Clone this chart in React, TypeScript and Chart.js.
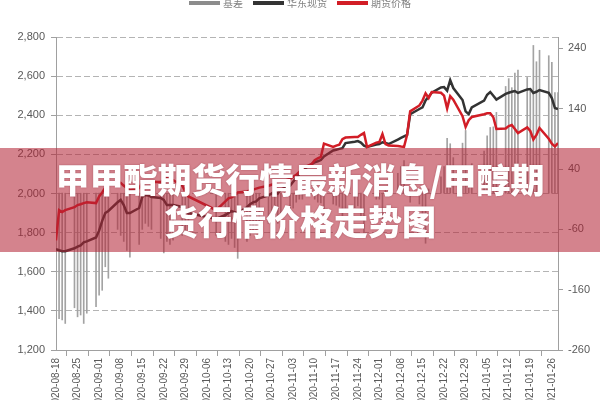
import React, { useEffect, useRef } from "react";
import { Chart, registerables } from "chart.js";

Chart.register(...registerables);

// ---- Data ----
const START_DATE = "2020-08-18";
const END_DATE = "2021-01-28";

// trading days per month
const aug2020 = [18, 19, 20, 21, 24, 25, 26, 27, 28, 31];
const sep2020 = [1, 2, 3, 4, 7, 8, 9, 10, 11, 14, 15, 16, 17, 18, 21, 22, 23, 24, 25, 28, 29, 30];
const oct2020 = [9, 12, 13, 14, 15, 16, 19, 20, 21, 22, 23, 26, 27, 28, 29, 30];
const nov2020 = [2, 3, 4, 5, 6, 9, 10, 11, 12, 13, 16, 17, 18, 19, 20, 23, 24, 25, 26, 27, 30];
const dec2020 = [1, 2, 3, 4, 7, 8, 9, 10, 11, 14, 15, 16, 17, 18, 21, 22, 23, 24, 25, 28, 29, 30, 31];
const jan2021 = [4, 5, 6, 7, 8, 11, 12, 13, 14, 15, 18, 19, 20, 21, 22, 25, 26, 27, 28];

// 华东现货 (spot)
const spotPrice = [
  1716, 1710, 1705, 1705, 1720, 1728, 1735, 1750, 1755, 1775,
  1810, 1860, 1900, 1911, 1955, 1967, 1941, 1900, 1900, 1926, 1982, 1992, 1990, 1982, 1977, 1967, 1941, 1941, 1941, 1931, 1910, 1900,
  1870, 1890, 1900, 1910, 1905, 1900, 1930, 1945, 1955, 1960, 1975, 1990, 2000, 2010, 2000, 2020,
  2040, 2060, 2080, 2100, 2120, 2150, 2160, 2165, 2171, 2190, 2220, 2224, 2228, 2232, 2258, 2265, 2268, 2260, 2245, 2238, 2250,
  2253, 2262, 2258, 2253, 2276, 2284, 2292, 2300, 2405, 2432, 2440, 2476, 2495, 2515, 2542, 2544, 2526, 2580, 2539, 2478, 2420, 2406, 2440,
  2475, 2505, 2519, 2500, 2480, 2509, 2515, 2520, 2524, 2514, 2532, 2534, 2514, 2520, 2529, 2515, 2488, 2437, 2432,
];

// 期货价格 (futures)
const futuresPrice = [
  1760, 1915, 1905, 1915, 1930, 1941, 1945, 1951, 1955, 1951,
  1985, 2005, 2030, 2054, 2058, 2054, 2040, 2030, 2018, 2028, 2054, 2058, 2059, 2059, 2059, 2069, 2079, 2075, 2069, 2040, 2010, 1985,
  1915, 1960, 1975, 1980, 1990, 2005, 2010, 2015, 2020, 2025, 2030, 2040, 2045, 2050, 2055, 2060,
  2075, 2085, 2095, 2110, 2130, 2150, 2170, 2180, 2187, 2255, 2238, 2245, 2250, 2278, 2286, 2289, 2289, 2300, 2309, 2238, 2260,
  2263, 2304, 2253, 2245, 2243, 2240, 2238, 2300, 2420, 2450, 2475, 2512, 2488, 2519, 2515, 2500, 2435, 2498, 2480, 2395, 2340, 2375, 2391,
  2405, 2410, 2410, 2390, 2330, 2332, 2345, 2350, 2330, 2309, 2338, 2320, 2276, 2300, 2335, 2280, 2255, 2240, 2258,
];

// 基差 (basis)
const basis = [
  -200, -208, -210, -216, -190, -205, -202, -216, -199, -188,
  -169, -161, -122, -141, -60, -70, -80, -95, -106, -85, -60, -50, -55, -60, -75, -99, -80, -85, -78, -70, -65, -60,
  -70, -80, -85, -75, -90, -108, -80, -70, -65, -60, -55, -50, -45, -40, -50, -35,
  -35, -25, -15, -10, -10, 0, -10, -15, -16, -50, -18, -20, -22, -38, -31, -24, -21, -40, -64, 0, -10,
  -10, -42, 5, 8, 33, 44, 54, 0, -15, -18, -35, -83, 7, -4, 27, 44, 91, 82, 59, 83, 104, 31, 49,
  70, 95, 109, 110, 134, 177, 190, 175, 199, 204, 192, 170, 245, 218, 237, 228, 217, 167, 167,
];

const xTickLabels = [
  "2020-08-18", "2020-08-25", "2020-09-01", "2020-09-08", "2020-09-15", "2020-09-22",
  "2020-09-29", "2020-10-06", "2020-10-13", "2020-10-20", "2020-10-27", "2020-11-03",
  "2020-11-10", "2020-11-17", "2020-11-24", "2020-12-01", "2020-12-08", "2020-12-15",
  "2020-12-22", "2020-12-29", "2021-01-05", "2021-01-12", "2021-01-19", "2021-01-26",
];
const leftTicks = [1200, 1400, 1600, 1800, 2000, 2200, 2400, 2600, 2800];
const rightTicks = [-260, -160, -60, 40, 140, 240];
const legendLabels = ["基差", "华东现货", "期货价格"];
const titleLines = ["甲甲酯期货行情最新消息/甲醇期", "货行情价格走势图"];

// ---- helpers ----
const pad = (n: number) => (n < 10 ? "0" + n : "" + n);
const tradeDates: string[] = [
  ...aug2020.map((d) => `2020-08-${pad(d)}`),
  ...sep2020.map((d) => `2020-09-${pad(d)}`),
  ...oct2020.map((d) => `2020-10-${pad(d)}`),
  ...nov2020.map((d) => `2020-11-${pad(d)}`),
  ...dec2020.map((d) => `2020-12-${pad(d)}`),
  ...jan2021.map((d) => `2021-01-${pad(d)}`),
];
const dayOf = (s: string) =>
  Math.round((Date.parse(s + "T00:00:00Z") - Date.parse(START_DATE + "T00:00:00Z")) / 86400000);

const AXIS_FONT = { family: '"Liberation Sans", Arial, sans-serif', size: 11 };
const COLORS = { basis: "#a3a3a3", spot: "#333333", futures: "#d21d26" };

const legendPlugin = {
  id: "topLegend",
  afterDraw(chart: any) {
    const ctx = chart.ctx;
    const colors = ["#8c8c8c", COLORS.spot, COLORS.futures];
    ctx.save();
    ctx.font = '10px "Noto Sans CJK SC", sans-serif';
    const sw = 31, g1 = 3, g2 = 10;
    const widths = legendLabels.map((l) => ctx.measureText(l).width);
    const total = widths.reduce((a, w) => a + sw + g1 + w, 0) + g2 * (legendLabels.length - 1);
    let x = chart.width / 2 - total / 2;
    const y = 3;
    ctx.textBaseline = "middle";
    legendLabels.forEach((l, i) => {
      ctx.fillStyle = colors[i];
      ctx.fillRect(x, y - 2, sw, 4);
      x += sw + g1;
      ctx.fillStyle = "#808080";
      ctx.fillText(l, x, y);
      x += widths[i] + g2;
    });
    ctx.restore();
  },
};

export default function App() {
  const ref = useRef<HTMLCanvasElement | null>(null);

  useEffect(() => {
    if (!ref.current) return;
    const pts = (vals: number[]) => tradeDates.map((d, i) => ({ x: dayOf(d), y: vals[i] }));
    const chart = new Chart(ref.current, {
      type: "bar",
      data: {
        datasets: [
          {
            type: "line",
            label: legendLabels[2],
            data: pts(futuresPrice),
            borderColor: COLORS.futures,
            borderWidth: 2.5,
            pointRadius: 0,
            tension: 0,
            yAxisID: "y",
            order: 0,
          } as any,
          {
            type: "line",
            label: legendLabels[1],
            data: pts(spotPrice),
            borderColor: COLORS.spot,
            borderWidth: 2.5,
            pointRadius: 0,
            tension: 0,
            yAxisID: "y",
            order: 1,
          } as any,
          {
            type: "bar",
            label: legendLabels[0],
            data: pts(basis),
            backgroundColor: COLORS.basis,
            barThickness: 1,
            yAxisID: "yR",
            order: 2,
          } as any,
        ],
      },
      options: {
        responsive: false,
        animation: false,
        devicePixelRatio: 1,
        layout: { padding: { top: 37, left: 0, right: 0, bottom: 0 } },
        plugins: { legend: { display: false }, tooltip: { enabled: false } },
        scales: {
          x: {
            type: "linear",
            min: 0,
            max: dayOf(END_DATE),
            offset: false,
            grid: { drawOnChartArea: false, tickLength: 6, color: "#a0a0a0" },
            border: { color: "#a0a0a0" },
            ticks: {
              autoSkip: false,
              minRotation: 90,
              maxRotation: 90,
              padding: 2,
              color: "#595959",
              font: { ...AXIS_FONT, size: 10 },
              callback: (_v: any, i: number) => xTickLabels[i],
            },
            afterBuildTicks: (s: any) => {
              s.ticks = xTickLabels.map((d) => ({ value: dayOf(d) }));
            },
            afterFit: (s: any) => {
              s.height = 50;
            },
          },
          y: {
            position: "left",
            min: leftTicks[0],
            max: leftTicks[leftTicks.length - 1],
            afterBuildTicks: (s: any) => {
              s.ticks = leftTicks.map((v) => ({ value: v }));
            },
            grid: { color: "#b4b4b4", tickLength: 5, tickColor: "#a0a0a0" },
            border: { color: "#a0a0a0", dash: [6, 3] },
            ticks: {
              padding: 6,
              color: "#595959",
              font: AXIS_FONT,
              callback: (v: any) => Number(v).toLocaleString("en-US"),
            },
            afterFit: (s: any) => {
              s.width = 56;
            },
          },
          yR: {
            position: "right",
            min: -260,
            max: 259,
            afterBuildTicks: (s: any) => {
              s.ticks = rightTicks.map((v) => ({ value: v }));
            },
            grid: { drawOnChartArea: false, tickLength: 5, color: "#a0a0a0" },
            border: { color: "#a0a0a0" },
            ticks: {
              padding: 5,
              color: "#595959",
              font: AXIS_FONT,
              callback: (v: any) => String(v),
            },
            afterFit: (s: any) => {
              s.width = 42;
            },
          },
        },
      } as any,
      plugins: [legendPlugin],
    });
    return () => chart.destroy();
  }, []);

  return (
    <div
      style={{
        position: "fixed",
        left: 0,
        top: 0,
        width: 600,
        height: 400,
        background: "#ffffff",
        overflow: "hidden",
      }}
    >
      <canvas ref={ref} width={600} height={400} style={{ display: "block" }} />
      <div
        style={{
          position: "absolute",
          left: 0,
          top: 148,
          width: 600,
          height: 104,
          background: "rgba(178, 34, 52, 0.56)",
          display: "flex",
          flexDirection: "column",
          justifyContent: "center",
          alignItems: "center",
          color: "#ffffff",
          fontFamily: '"Noto Sans CJK SC", sans-serif',
          fontWeight: 900,
          fontSize: 34,
          lineHeight: "42px",
          textShadow: "0 0 2px rgba(110,20,35,0.45)",
          whiteSpace: "nowrap",
        }}
      >
        {titleLines.map((t, i) => (
          <div key={i}>{t}</div>
        ))}
      </div>
    </div>
  );
}
